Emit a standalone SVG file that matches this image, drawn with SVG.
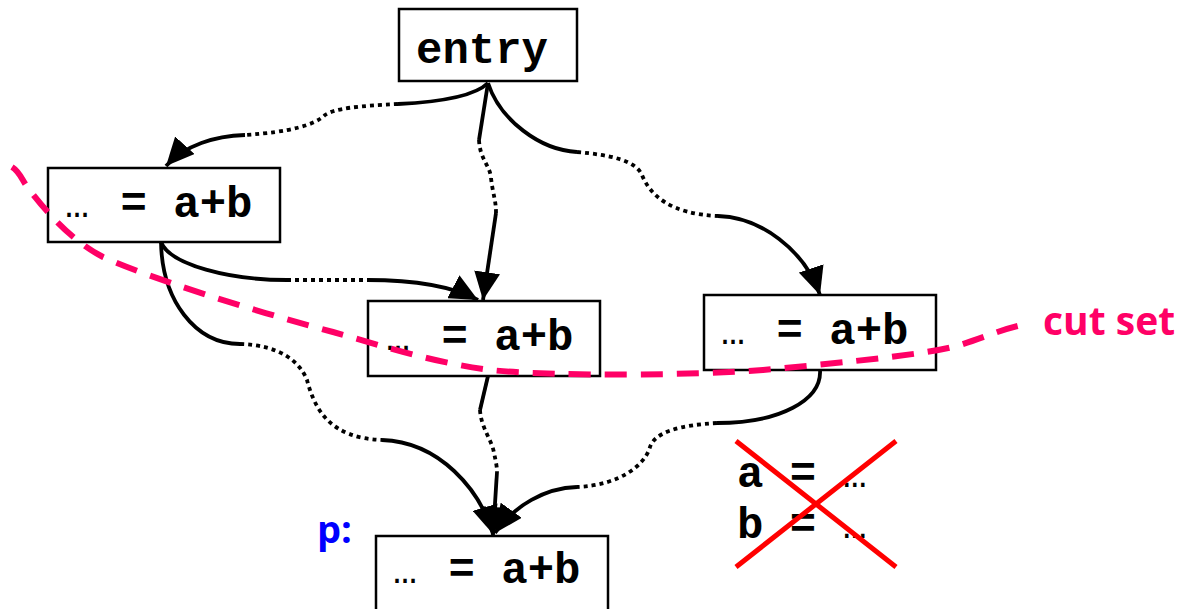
<svg xmlns="http://www.w3.org/2000/svg" width="1179" height="609" viewBox="0 0 1179 609">
<style>
.box{fill:#fff;stroke:#000;stroke-width:2.5}
.code{font-family:"Liberation Mono","Courier New",monospace;font-weight:bold;font-size:44px;fill:#000}
.el{font-weight:normal;font-size:40px}
.s{fill:none;stroke:#000;stroke-width:3.8}
.d{fill:none;stroke:#000;stroke-width:3.8;stroke-dasharray:4 4}
.arr{marker-end:url(#ah)}
.lbl{font-family:"Open Sans","Liberation Sans",sans-serif;font-weight:bold}
</style>
<defs>
<marker id="ah" markerUnits="userSpaceOnUse" viewBox="0 0 28 26" refX="28" refY="13" markerWidth="28" markerHeight="26" orient="auto">
<path d="M0,0 L28,13 L0,26 Z" fill="#000"/>
</marker>
</defs>
<g id="connectors">
<path class="s" d="M488,83 C475,96 440,102 398,104"/>
<path class="d" d="M398,104 C360,106 335,108 325,115 C315,125 290,132 245,135"/>
<path class="s arr" d="M245,135 C215,136 185,145 166,166"/>
<path class="s" d="M488,83 L479,140"/>
<path class="d" d="M479,140 C480,160 490,165 491,178 C493,195 496,200 496,213"/>
<path class="s arr" d="M496,213 L483,300"/>
<path class="s" d="M488,83 C500,120 540,150 577,152"/>
<path class="d" d="M577,152 C610,155 635,160 642,175 C650,195 670,214 718,216"/>
<path class="s arr" d="M718,216 C760,217 805,250 820,295"/>
<path class="s" d="M161,242 C170,265 230,280 287,280"/>
<path class="d" d="M287,280 L367,280"/>
<path class="s arr" d="M367,280 C410,280 450,285 478,300"/>
<path class="s" d="M161,242 C162,300 195,344 240,344"/>
<path class="d" d="M240,344 C280,345 300,362 307,380 C315,410 330,438 382,440"/>
<path class="s arr" d="M382,440 C440,442 480,490 493,534"/>
<path class="s" d="M488,376 L480,410"/>
<path class="d" d="M480,410 C481,428 492,440 494,453 C496,462 497,467 497,472"/>
<path class="s arr" d="M497,472 L493,535"/>
<path class="s" d="M820,370 C822,400 780,423 717,423"/>
<path class="d" d="M717,423 C680,425 655,432 650,447 C645,465 620,485 577,487"/>
<path class="s arr" d="M577,487 C545,488 515,505 495,533"/>
</g>
<g id="entry">
<rect class="box" x="399" y="9" width="178" height="72"/>
<text class="code" x="416" y="63">entry</text>
</g>
<g id="node1">
<rect class="box" x="48" y="168" width="232" height="74"/>
<text class="code" x="65" y="217"><tspan class="el">…</tspan><tspan dx="5"> = a+b</tspan></text>
</g>
<g id="node2">
<rect class="box" x="368" y="301" width="232" height="75"/>
<text class="code" x="386" y="350"><tspan class="el">…</tspan><tspan dx="5"> = a+b</tspan></text>
</g>
<g id="node3">
<rect class="box" x="704" y="295" width="232" height="75"/>
<text class="code" x="721" y="344"><tspan class="el">…</tspan><tspan dx="5"> = a+b</tspan></text>
</g>
<g id="node4">
<rect class="box" x="376" y="536" width="232" height="80"/>
<text class="code" x="393" y="583"><tspan class="el">…</tspan><tspan dx="5"> = a+b</tspan></text>
</g>
<g id="label-p">
<text class="lbl" x="317" y="543" font-size="38" fill="#0000FF">p:</text>
</g>
<g id="killed">
<text class="code" x="737" y="487">a = <tspan class="el">…</tspan></text>
<text class="code" x="737" y="538">b = <tspan class="el">…</tspan></text>
<path d="M736,441 L896,567 M896,441 L736,567" stroke="#FF0000" stroke-width="5" fill="none"/>
</g>
<g id="cutset">
<path d="M12,167 C20,172 22,180 28,188 C45,210 70,240 103,257 C150,278 250,310 333,332 C380,345 430,362 490,370 C560,377 700,375 763,370 C850,362 930,354 960,345 C985,337 1000,330 1022,325" fill="none" stroke="#FF0066" stroke-width="6" stroke-dasharray="22 14"/>
<text class="lbl" x="1043" y="335" font-size="39" fill="#FF0066">cut set</text>
</g>
</svg>
